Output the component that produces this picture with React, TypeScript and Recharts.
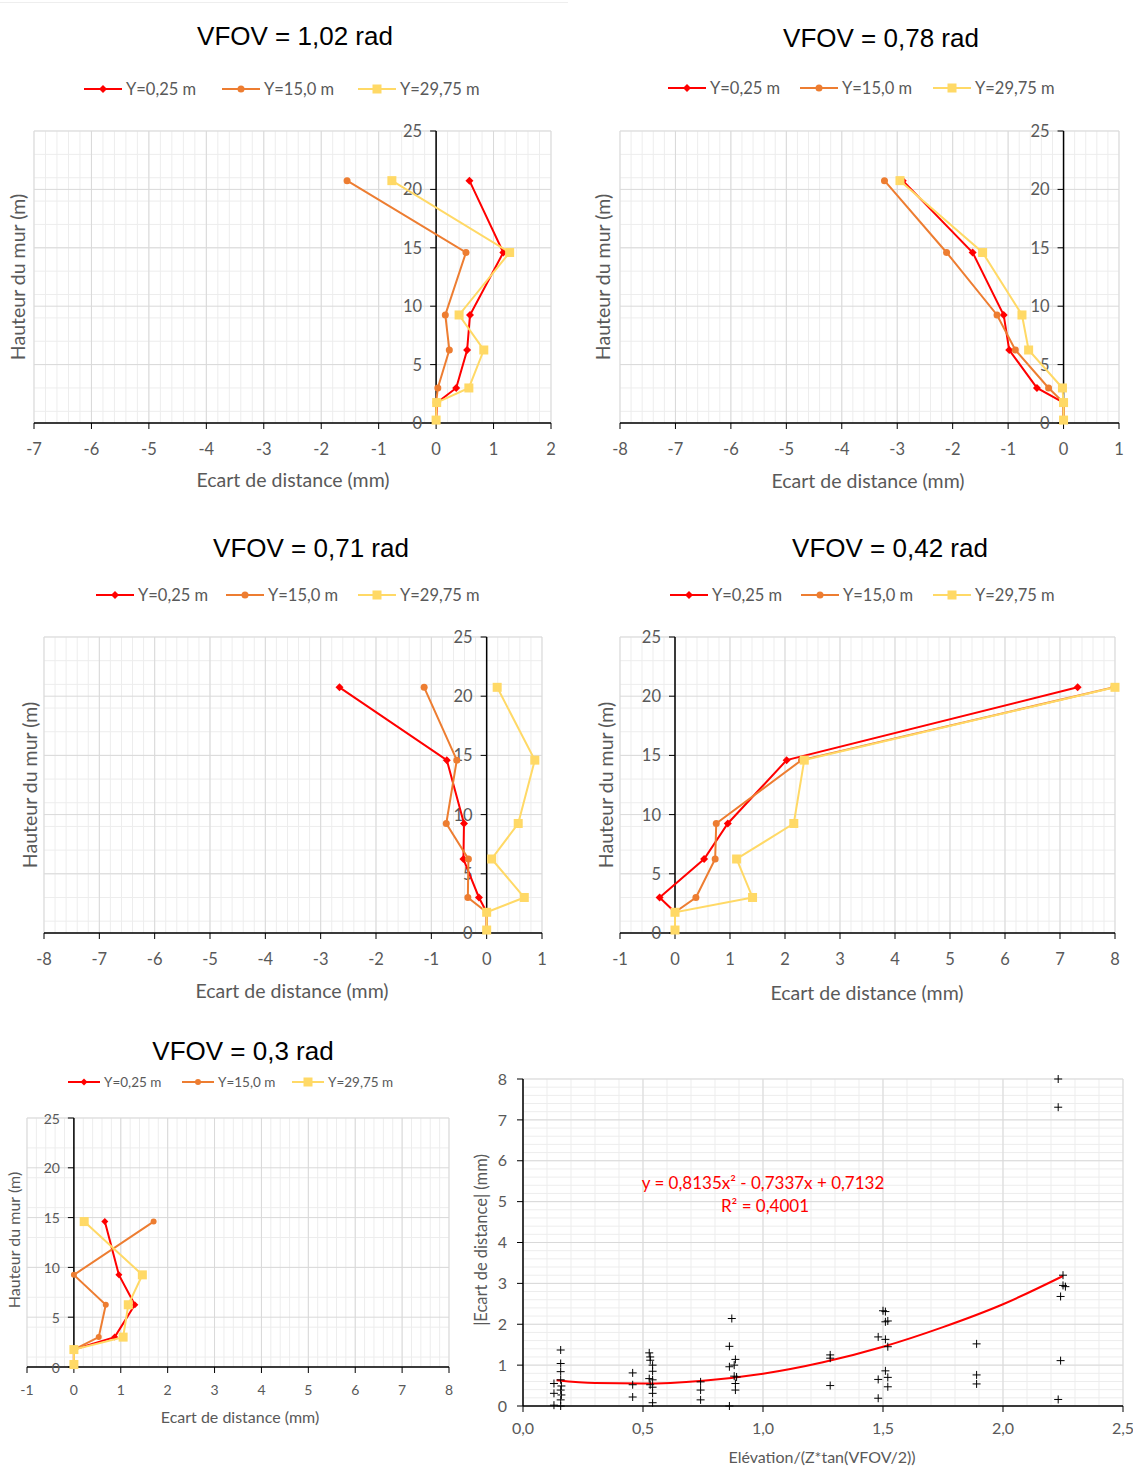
import React from 'react';
import {
  ScatterChart, Scatter, XAxis, YAxis, CartesianGrid, ReferenceLine, ReferenceDot,
  ComposedChart, Line,
} from 'recharts';

// ---------------- DATA ----------------
const seriesNames = ['Y=0,25 m', 'Y=15,0 m', 'Y=29,75 m'];
const heights = [0.25, 1.75, 3, 6.25, 9.25, 14.6, 20.75];
const heights030 = [0.25, 1.75, 3, 6.25, 9.25, 14.6];

// VFOV = 1,02 rad
const v102Red = [0, 0.02, 0.35, 0.54, 0.59, 1.17, 0.58];
const v102Orange = [0, 0, 0.03, 0.23, 0.16, 0.52, -1.55];
const v102Yellow = [0, 0.01, 0.57, 0.83, 0.4, 1.28, -0.77];

// VFOV = 0,78 rad
const v078Red = [0, 0, -0.48, -0.98, -1.08, -1.64, -2.9];
const v078Orange = [0, 0, -0.27, -0.87, -1.2, -2.11, -3.23];
const v078Yellow = [0, 0, -0.02, -0.63, -0.75, -1.46, -2.95];

// VFOV = 0,71 rad
const v071Red = [0, 0, -0.14, -0.42, -0.41, -0.72, -2.66];
const v071Orange = [0, 0, -0.34, -0.33, -0.73, -0.54, -1.13];
const v071Yellow = [0, 0, 0.68, 0.09, 0.57, 0.87, 0.19];

// VFOV = 0,42 rad
const v042Red = [0, 0, -0.28, 0.53, 0.96, 2.03, 7.32];
const v042Orange = [0, 0, 0.38, 0.73, 0.75, 2.3, 7.98];
const v042Yellow = [0, 0, 1.41, 1.12, 2.16, 2.35, 8.0];

// VFOV = 0,3 rad
const v030Red = [0, 0, 0.87, 1.3, 0.96, 0.66];
const v030Orange = [0, 0, 0.53, 0.68, 0, 1.7];
const v030Yellow = [0, 0, 1.05, 1.16, 1.46, 0.22];

// Scatter: Elévation/(Z*tan(VFOV/2)) vs |Ecart de distance|
const scatterX = [
  0.157, 0.157, 0.157, 0.157, 0.129, 0.16, 0.157, 0.129, 0.16, 0.157, 0.129, 0.157,
  0.457, 0.457, 0.457,
  0.526, 0.53, 0.53, 0.54, 0.54, 0.526, 0.54, 0.53, 0.54, 0.54, 0.54,
  0.74, 0.74, 0.74,
  0.87, 0.86, 0.885, 0.88, 0.86, 0.88, 0.89, 0.885, 0.885, 0.86,
  1.28, 1.28, 1.28,
  1.5, 1.51, 1.51, 1.52, 1.48, 1.51, 1.52, 1.51, 1.52, 1.48, 1.52, 1.48,
  1.89, 1.89, 1.89,
  2.23, 2.23, 2.25, 2.25, 2.26, 2.24, 2.24, 2.23,
];
const scatterY = [
  1.37, 1.04, 0.84, 0.64, 0.55, 0.49, 0.39, 0.31, 0.27, 0.15, 0.02, 0.0,
  0.81, 0.52, 0.22,
  1.3, 1.2, 1.12, 1.0, 0.85, 0.67, 0.64, 0.52, 0.46, 0.31, 0.08,
  0.59, 0.39, 0.15,
  2.14, 1.46, 1.14, 1.0, 0.96, 0.73, 0.71, 0.55, 0.39, 0.0,
  1.25, 1.17, 0.5,
  2.33, 2.31, 2.06, 2.08, 1.69, 1.63, 1.45, 0.86, 0.7, 0.65, 0.47, 0.19,
  1.52, 0.76, 0.54,
  8.0, 7.31, 3.2, 2.95, 2.92, 2.68, 1.11, 0.16,
];
// polynomial trend line
const trendX = [0.14, 0.3, 0.5, 0.75, 1.0, 1.25, 1.5, 1.75, 2.0, 2.25];
const trendY = [0.63, 0.56, 0.55, 0.62, 0.79, 1.07, 1.45, 1.93, 2.49, 3.18];
const trendEquation = 'y = 0,8135x² - 0,7337x + 0,7132';
const trendR2 = 'R² = 0,4001';

// ---------------- STYLE ----------------
const RED = '#FF0000';
const ORANGE = '#ED7D31';
const YELLOW = '#FFD966';
const colors = [RED, ORANGE, YELLOW];
const kinds = ['diamond', 'circle', 'square'];
const FONT = 'Lato, "Open Sans", sans-serif';
const GRAY = '#595959';
const MAJOR = '#D9D9D9';
const MINOR = '#EDEDED';

function range(a: number, b: number, step: number) {
  const out: number[] = [];
  const n = Math.round((b - a) / step);
  for (let i = 0; i <= n; i++) out.push(+(a + i * step).toFixed(4));
  return out;
}

function markerShape(kind: string, color: string, s: number) {
  return (props: any) => {
    const { cx, cy } = props;
    if (cx == null || cy == null) return <g />;
    if (kind === 'diamond')
      return <path d={`M${cx},${cy - s}L${cx + s},${cy}L${cx},${cy + s}L${cx - s},${cy}Z`} fill={color} />;
    if (kind === 'circle') return <circle cx={cx} cy={cy} r={s} fill={color} />;
    return <rect x={cx - s} y={cy - s} width={2 * s} height={2 * s} fill={color} />;
  };
}

function Text({ x, y, size, color = GRAY, family = FONT, rotate = false, children }: any) {
  return (
    <div
      style={{
        position: 'absolute', left: x, top: y, whiteSpace: 'nowrap', fontSize: size, color,
        fontFamily: family, lineHeight: 1,
        transform: `translate(-50%,-50%)${rotate ? ' rotate(-90deg)' : ''}`,
      }}
    >
      {children}
    </div>
  );
}

function LegendRow({ y, starts, lineLen, size, ms }: any) {
  return (
    <>
      {starts.map((sx: number, i: number) => (
        <div key={i} style={{ position: 'absolute', left: sx, top: y - 10, height: 20, display: 'flex', alignItems: 'center' }}>
          <svg width={lineLen} height={20} style={{ display: 'block' }}>
            <line x1={0} x2={lineLen} y1={10} y2={10} stroke={colors[i]} strokeWidth={2} />
            {markerShape(kinds[i], colors[i], ms[i])({ cx: lineLen / 2, cy: 10 })}
          </svg>
          <span style={{ marginLeft: 4, fontFamily: FONT, fontSize: size, color: GRAY }}>{seriesNames[i]}</span>
        </div>
      ))}
    </>
  );
}

type PanelCfg = {
  title: string; titleX: number; titleY: number; titleSize: number;
  legendY: number; legendStarts: number[]; legendLine: number; legendSize: number;
  px: number; py: number; pw: number; ph: number;
  xMin: number; xMax: number; hs: number[]; vals: number[][];
  tickSize: number; axisTitleSize: number;
  xtX: number; xtY: number; ytX: number; ytY: number;
  ms: number[];
};

function Panel({ c }: { c: PanelCfg }) {
  const m = { top: 10, right: 10, bottom: 0, left: 10 };
  const xh = 45;
  const W = c.pw + m.left + m.right;
  const H = c.ph + m.top + m.bottom + xh;
  const xTicks = range(c.xMin, c.xMax, 1);
  const yTicks = range(0, 25, 5);
  const minorX = range(c.xMin, c.xMax, 0.2);
  const minorY = range(0, 25, 1);
  return (
    <>
      <Text x={c.titleX} y={c.titleY} size={c.titleSize} color="#000" family='"Liberation Sans", Arial, sans-serif'>{c.title}</Text>
      <LegendRow y={c.legendY} starts={c.legendStarts} lineLen={c.legendLine} size={c.legendSize} ms={c.ms} />
      <div style={{ position: 'absolute', left: c.px - m.left, top: c.py - m.top }}>
        <ScatterChart width={W} height={H} margin={m}>
          <CartesianGrid stroke={MINOR} strokeWidth={1} verticalValues={minorX} horizontalValues={minorY} />
          <CartesianGrid stroke={MAJOR} strokeWidth={1} verticalValues={xTicks} horizontalValues={yTicks} />
          <XAxis
            type="number" dataKey="x" domain={[c.xMin, c.xMax]} ticks={xTicks} interval={0}
            height={xh}
            axisLine={{ stroke: '#000', strokeWidth: 1.5 }} tickLine={{ stroke: '#000' }} tickSize={6}
            tickMargin={c.tickSize - 2} tick={{ fill: GRAY, fontSize: c.tickSize, fontFamily: FONT }}
          />
          <YAxis type="number" dataKey="y" domain={[0, 25]} ticks={yTicks} hide />
          <ReferenceLine x={0} stroke="#000" strokeWidth={1.5} />
          {yTicks.map((v) => (
            <ReferenceDot
              key={v} x={0} y={v} r={0}
              shape={(p: any) => (
                <g>
                  <line x1={p.cx - 6} x2={p.cx} y1={p.cy} y2={p.cy} stroke="#000" />
                  <text x={p.cx - 14} y={p.cy} textAnchor="end" dominantBaseline="central"
                    fill={GRAY} fontSize={c.tickSize} fontFamily={FONT}>{v}</text>
                </g>
              )}
            />
          ))}
          {c.vals.map((vals, i) => (
            <Scatter
              key={i} name={seriesNames[i]}
              data={vals.map((v, k) => ({ x: v, y: c.hs[k] }))}
              line={{ stroke: colors[i], strokeWidth: 2 }} lineType="joint"
              shape={markerShape(kinds[i], colors[i], c.ms[i])}
              isAnimationActive={false}
            />
          ))}
        </ScatterChart>
      </div>
      <Text x={c.xtX} y={c.xtY} size={c.axisTitleSize}>Ecart de distance (mm)</Text>
      <Text x={c.ytX} y={c.ytY} size={c.axisTitleSize} rotate>Hauteur du mur (m)</Text>
    </>
  );
}

const panels: PanelCfg[] = [
  {
    title: 'VFOV = 1,02 rad', titleX: 295, titleY: 36, titleSize: 26,
    legendY: 89, legendStarts: [84, 222, 358], legendLine: 38, legendSize: 16.5,
    px: 34, py: 131, pw: 517, ph: 292, xMin: -7, xMax: 2, hs: heights,
    vals: [v102Red, v102Orange, v102Yellow], tickSize: 16.5, axisTitleSize: 19.5,
    xtX: 293, xtY: 480, ytX: 18, ytY: 277, ms: [4, 3.5, 4.5],
  },
  {
    title: 'VFOV = 0,78 rad', titleX: 881, titleY: 38, titleSize: 26,
    legendY: 88, legendStarts: [668, 800, 933], legendLine: 38, legendSize: 16.5,
    px: 620, py: 131, pw: 499, ph: 292, xMin: -8, xMax: 1, hs: heights,
    vals: [v078Red, v078Orange, v078Yellow], tickSize: 16.5, axisTitleSize: 19.5,
    xtX: 868, xtY: 481, ytX: 603, ytY: 277, ms: [4, 3.5, 4.5],
  },
  {
    title: 'VFOV = 0,71 rad', titleX: 311, titleY: 548, titleSize: 26,
    legendY: 595, legendStarts: [96, 226, 358], legendLine: 38, legendSize: 16.5,
    px: 44, py: 637, pw: 498, ph: 296, xMin: -8, xMax: 1, hs: heights,
    vals: [v071Red, v071Orange, v071Yellow], tickSize: 16.5, axisTitleSize: 19.5,
    xtX: 292, xtY: 991, ytX: 30, ytY: 785, ms: [4, 3.5, 4.5],
  },
  {
    title: 'VFOV = 0,42 rad', titleX: 890, titleY: 548, titleSize: 26,
    legendY: 595, legendStarts: [670, 801, 933], legendLine: 38, legendSize: 16.5,
    px: 620, py: 637, pw: 495, ph: 296, xMin: -1, xMax: 8, hs: heights,
    vals: [v042Red, v042Orange, v042Yellow], tickSize: 16.5, axisTitleSize: 19.5,
    xtX: 867, xtY: 993, ytX: 606, ytY: 785, ms: [4, 3.5, 4.5],
  },
  {
    title: 'VFOV = 0,3 rad', titleX: 243, titleY: 1051, titleSize: 26,
    legendY: 1082, legendStarts: [68, 182, 292], legendLine: 32, legendSize: 13.5,
    px: 27, py: 1118, pw: 422, ph: 249, xMin: -1, xMax: 8, hs: heights030,
    vals: [v030Red, v030Orange, v030Yellow], tickSize: 14, axisTitleSize: 16,
    xtX: 240, xtY: 1417, ytX: 14, ytY: 1240, ms: [3.5, 3, 4.5],
  },
];

function plusShape(props: any) {
  const { cx, cy } = props;
  if (cx == null || cy == null) return <g />;
  return (
    <path d={`M${cx - 4},${cy}H${cx + 4}M${cx},${cy - 4}V${cy + 4}`} stroke="#000" strokeWidth={1} fill="none" />
  );
}

function ScatterPanel() {
  const px = 523, py = 1079, pw = 600, ph = 327;
  const yw = 50, xh = 40;
  const m = { top: 10, right: 10, bottom: 0, left: 0 };
  const W = pw + yw + m.left + m.right;
  const H = ph + m.top + xh + m.bottom;
  const xTicks = range(0, 2.5, 0.5);
  const yTicks = range(0, 8, 1);
  const pts = scatterX.map((x, i) => ({ x, y: scatterY[i] }));
  const trend = trendX.map((x, i) => ({ x, y: trendY[i] }));
  const fmt = (v: number) => v.toFixed(1).replace('.', ',');
  return (
    <>
      <div style={{ position: 'absolute', left: px - yw - m.left, top: py - m.top }}>
        <ComposedChart width={W} height={H} margin={m}>
          <CartesianGrid stroke={MINOR} verticalValues={range(0, 2.5, 0.1)} horizontalValues={range(0, 8, 0.2)} />
          <CartesianGrid stroke={MAJOR} verticalValues={xTicks} horizontalValues={yTicks} />
          <XAxis
            type="number" dataKey="x" domain={[0, 2.5]} ticks={xTicks} interval={0} height={xh}
            tickFormatter={fmt}
            axisLine={{ stroke: '#000', strokeWidth: 1.5 }} tickLine={{ stroke: '#000' }} tickSize={6}
            tickMargin={11} tick={{ fill: GRAY, fontSize: 16, fontFamily: FONT }}
          />
          <YAxis
            type="number" dataKey="y" domain={[0, 8]} ticks={yTicks} interval={0} width={yw}
            axisLine={{ stroke: '#000', strokeWidth: 1.5 }} tickLine={{ stroke: '#000' }} tickSize={6}
            tickMargin={10} tick={{ fill: GRAY, fontSize: 16, fontFamily: FONT }}
          />
          <Scatter data={pts} shape={plusShape} isAnimationActive={false} />
          <Line data={trend} dataKey="y" type="monotone" stroke={RED} strokeWidth={2} dot={false} isAnimationActive={false} />
        </ComposedChart>
      </div>
      <Text x={763} y={1182} size={17} color={RED}>{trendEquation}</Text>
      <Text x={765} y={1205} size={17} color={RED}>{trendR2}</Text>
      <Text x={822} y={1457} size={16} >Elévation/(Z*tan(VFOV/2))</Text>
      <Text x={481} y={1240} size={16.5} rotate>|Ecart de distance| (mm)</Text>
    </>
  );
}

export default function App() {
  return (
    <div style={{ position: 'absolute', left: 0, top: 0, width: 1142, height: 1470, background: '#fff', overflow: 'hidden' }}>
      <div style={{ position: 'absolute', left: 0, top: 2, width: 568, height: 1, background: '#EEEEEE' }} />
      {panels.map((c, i) => <Panel key={i} c={c} />)}
      <ScatterPanel />
    </div>
  );
}
